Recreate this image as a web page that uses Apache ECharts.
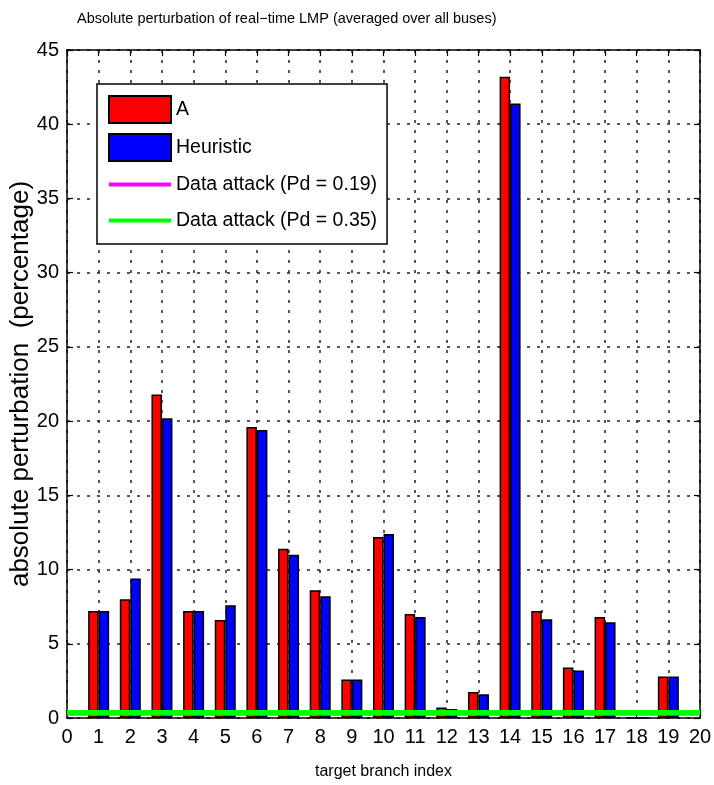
<!DOCTYPE html>
<html>
<head>
<meta charset="utf-8">
<script src="https://cdn.jsdelivr.net/npm/echarts@6/dist/echarts.min.js"></script>
<style>
html,body{margin:0;padding:0;background:#fff;}
#chart{width:714px;height:785px;}
</style>
</head>
<body>
<div id="chart"></div>
<script>
// Data
var branchIndex = [1, 2, 3, 4, 5, 6, 7, 8, 9, 10, 11, 12, 13, 14, 15, 16, 17, 18, 19];
var valuesA = [7.2, 8.0, 21.8, 7.2, 6.6, 19.6, 11.4, 8.6, 2.6, 12.2, 7.0, 0.7, 1.75, 43.2, 7.2, 3.4, 6.8, 0, 2.8];
var valuesHeuristic = [7.2, 9.4, 20.2, 7.2, 7.6, 19.4, 11.0, 8.2, 2.6, 12.4, 6.8, 0.6, 1.6, 41.4, 6.65, 3.2, 6.45, 0, 2.8];
var attackLowX = [0, 20];
var attackLowY = [0.3, 0.3];
var attackHighX = [0, 20];
var attackHighY = [0.35, 0.35];
var xTickMin = 0, xTickMax = 20, xTickStep = 1;
var yTickMin = 0, yTickMax = 45, yTickStep = 5;

var FONT = "'Liberation Sans', Arial, sans-serif";
var LINE_ICON = 'path://M0,0 M0,11.5 L62,11.5 L62,15.5 L0,15.5 Z M62,27';

function pairs(xs, ys) { return xs.map(function (x, i) { return [x, ys[i]]; }); }

var chart = echarts.init(document.getElementById('chart'), null, {renderer: 'canvas'});
var dotted = {color: '#222', width: 1.5, type: [3, 7]};
var option = {
  backgroundColor: '#fff',
  animation: false,
  title: {
    text: 'Absolute perturbation of real\u2212time LMP (averaged over all buses)',
    left: 72, top: 6,
    textStyle: {fontFamily: FONT, fontSize: 14.5, fontWeight: 'normal', color: '#000'}
  },
  legend: {
    orient: 'vertical', left: 97, top: 84,
    padding: [11, 10, 10, 11],
    backgroundColor: '#fff', borderColor: '#000', borderWidth: 1.5,
    itemWidth: 62, itemHeight: 27, itemGap: 9,
    textStyle: {fontFamily: FONT, fontSize: 19.5, color: '#000'},
    data: [
      {name: 'A', icon: 'rect'},
      {name: 'Heuristic', icon: 'rect'},
      {name: 'Data attack (Pd = 0.19)', icon: LINE_ICON},
      {name: 'Data attack (Pd = 0.35)', icon: LINE_ICON}
    ]
  },
  grid: {left: 67, right: 14, top: 50, bottom: 67, containLabel: false, outerBoundsMode: 'none'},
  xAxis: [
    {
      type: 'value', min: xTickMin, max: xTickMax, interval: xTickStep, position: 'bottom',
      name: 'target branch index', nameLocation: 'middle', nameGap: 46, nameMoveOverlap: false,
      nameTextStyle: {fontFamily: FONT, fontSize: 16, color: '#000'},
      axisLine: {show: true, onZero: false, lineStyle: {color: '#000', width: 1.5}},
      axisTick: {show: true, inside: true, length: 6, lineStyle: {color: '#000', width: 1.2}},
      axisLabel: {fontFamily: FONT, fontSize: 20, color: '#000', margin: 9},
      splitLine: {show: true, lineStyle: dotted}
    },
    {
      type: 'value', min: xTickMin, max: xTickMax, interval: xTickStep, position: 'top',
      axisLine: {show: true, onZero: false, lineStyle: {color: '#000', width: 1.5}},
      axisTick: {show: true, inside: true, length: 6, lineStyle: {color: '#000', width: 1.2}},
      axisLabel: {show: false}, splitLine: {show: false}
    }
  ],
  yAxis: [
    {
      type: 'value', min: yTickMin, max: yTickMax, interval: yTickStep, position: 'left',
      name: 'absolute perturbation  (percentage)', nameLocation: 'middle', nameGap: 33, nameMoveOverlap: false,
      nameTextStyle: {fontFamily: FONT, fontSize: 26, color: '#000'},
      axisLine: {show: true, onZero: false, lineStyle: {color: '#000', width: 1.5}},
      axisTick: {show: true, inside: true, length: 6, lineStyle: {color: '#000', width: 1.2}},
      axisLabel: {fontFamily: FONT, fontSize: 20, color: '#000', margin: 8},
      splitLine: {show: true, lineStyle: dotted}
    },
    {
      type: 'value', min: yTickMin, max: yTickMax, interval: yTickStep, position: 'right',
      axisLine: {show: true, onZero: false, lineStyle: {color: '#000', width: 1.5}},
      axisTick: {show: true, inside: true, length: 6, lineStyle: {color: '#000', width: 1.2}},
      axisLabel: {show: false}, splitLine: {show: false}
    }
  ],
  series: [
    {
      name: 'A', type: 'bar', xAxisIndex: 0, yAxisIndex: 0,
      barWidth: 10.5, barGap: '0%',
      itemStyle: {color: '#ff0000', borderColor: '#000', borderWidth: 1.5},
      data: pairs(branchIndex, valuesA), z: 2
    },
    {
      name: 'Heuristic', type: 'bar', xAxisIndex: 0, yAxisIndex: 0,
      barWidth: 10.5, barGap: '0%',
      itemStyle: {color: '#0000ff', borderColor: '#000', borderWidth: 1.5},
      data: pairs(branchIndex, valuesHeuristic), z: 2
    },
    {
      name: 'Data attack (Pd = 0.19)', type: 'line', xAxisIndex: 0, yAxisIndex: 0,
      symbol: 'none', showSymbol: false,
      lineStyle: {color: '#ff00ff', width: 4}, itemStyle: {color: '#ff00ff'},
      data: pairs(attackLowX, attackLowY), z: 3
    },
    {
      name: 'Data attack (Pd = 0.35)', type: 'line', xAxisIndex: 0, yAxisIndex: 0,
      symbol: 'none', showSymbol: false,
      lineStyle: {color: '#00ff00', width: 5.5}, itemStyle: {color: '#00ff00'},
      data: pairs(attackHighX, attackHighY), z: 4
    }
  ]
};
chart.setOption(option);
</script>
</body>
</html>
